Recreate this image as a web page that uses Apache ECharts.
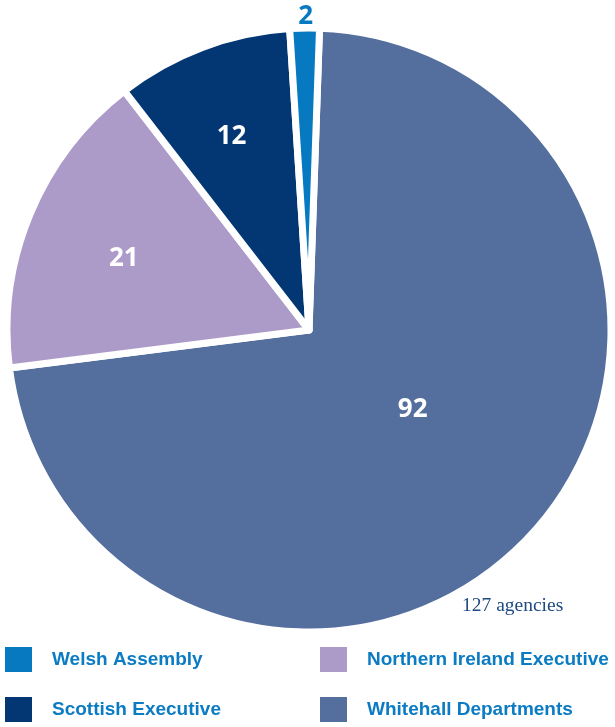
<!DOCTYPE html>
<html>
<head>
<meta charset="utf-8">
<script src="https://cdn.jsdelivr.net/npm/echarts@6/dist/echarts.min.js"></script>
<style>
  html, body { margin: 0; padding: 0; background: #ffffff; }
  #chart { width: 615px; height: 727px; }
</style>
</head>
<body>
<div id="chart"></div>
<script>
// Agencies by sponsoring administration
const categories = ['Whitehall Departments', 'Northern Ireland Executive', 'Scottish Executive', 'Welsh Assembly'];
const agencyCounts = [92, 21, 12, 2];
const sliceColors = ['#546e9e', '#ac9bc9', '#033774', '#0679c1'];
// Fine adjustment of each value label away from the slice midpoint
const labelOffsets = [[-10, -24], [-43, -12], [-23, -49], [-1, -159]];
const labelColors = ['#ffffff', '#ffffff', '#ffffff', '#0679c1'];
const legendOrder = ['Welsh Assembly', 'Northern Ireland Executive', 'Scottish Executive', 'Whitehall Departments'];

const total = agencyCounts.reduce((a, b) => a + b, 0);

const chart = echarts.init(document.getElementById('chart'), null, { renderer: 'canvas' });

const legendSlots = [
  { left: 5, top: 647 },
  { left: 320, top: 647 },
  { left: 5, top: 697 },
  { left: 320, top: 697 }
];

const legends = legendOrder.map((name, i) => ({
  data: [name],
  left: legendSlots[i].left,
  top: legendSlots[i].top,
  orient: 'horizontal',
  icon: 'rect',
  itemWidth: 27,
  itemHeight: 25,
  itemGap: 0,
  padding: 0,
  selectedMode: false,
  itemStyle: { borderWidth: 0 },
  textStyle: {
    color: '#0b7bc3',
    fontSize: 19,
    fontWeight: 'bold',
    fontFamily: '"Liberation Sans", Arial, sans-serif',
    padding: [0, 0, 0, 15]
  }
}));

const option = {
  backgroundColor: '#ffffff',
  animation: false,
  legend: legends,
  graphic: [{
    type: 'text',
    left: 462,
    top: 596,
    style: {
      text: total + ' agencies',
      fill: '#1d4a80',
      font: '19.5px "Liberation Serif", "DejaVu Serif", serif'
    }
  }],
  series: [{
    type: 'pie',
    center: [309, 330],
    radius: [0, 302],
    startAngle: 88,
    clockwise: true,
    avoidLabelOverlap: false,
    emphasis: { disabled: true },
    itemStyle: { borderColor: '#ffffff', borderWidth: 7 },
    labelLine: { show: false },
    label: {
      show: true,
      position: 'inside',
      formatter: '{c}',
      fontSize: 26,
      fontWeight: 'bold',
      fontFamily: '"Open Sans", "Liberation Sans", Arial, sans-serif'
    },
    data: categories.map((name, i) => ({
      name: name,
      value: agencyCounts[i],
      itemStyle: { color: sliceColors[i] },
      label: { color: labelColors[i], offset: labelOffsets[i] }
    }))
  }]
};

chart.setOption(option);
</script>
</body>
</html>
